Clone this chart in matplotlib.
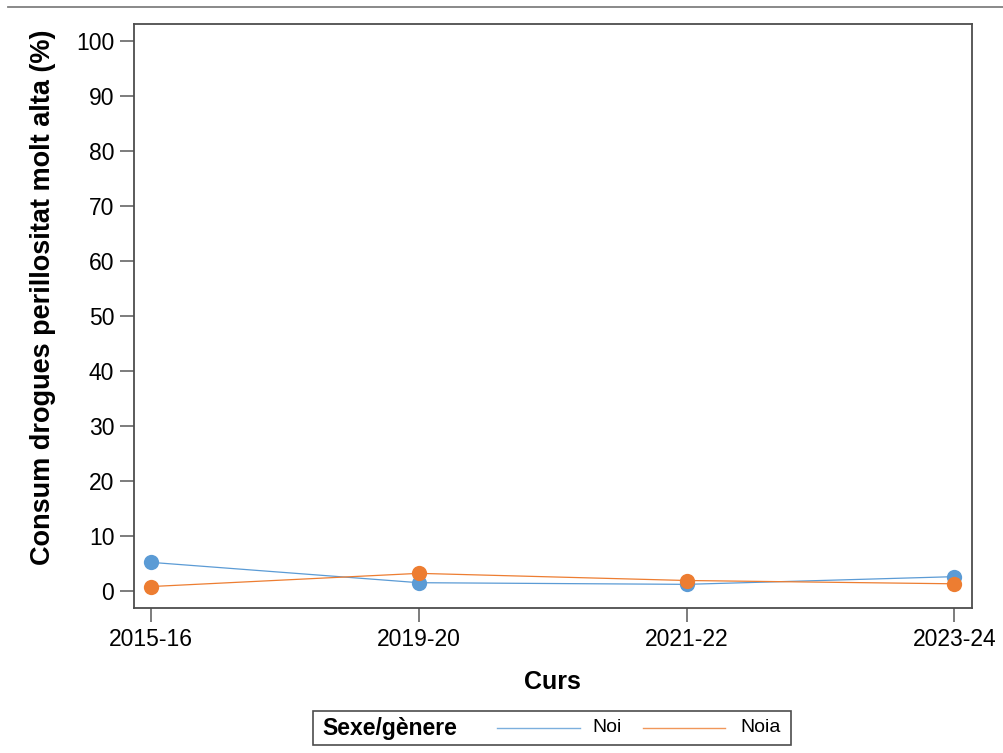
import matplotlib.pyplot as plt
from matplotlib.lines import Line2D
from matplotlib.patches import Rectangle

plt.rcParams["font.family"] = ["Liberation Sans", "DejaVu Sans"]

# Data
cursos = ["2015-16", "2019-20", "2021-22", "2023-24"]
noi = [5.2, 1.5, 1.2, 2.6]
noia = [0.8, 3.2, 1.9, 1.3]
y_ticks = [0, 10, 20, 30, 40, 50, 60, 70, 80, 90, 100]

blue = "#5b9bd5"
orange = "#ed7d31"
spine_col = "#4d4d4d"

fig = plt.figure(figsize=(10.04, 7.53), dpi=100)
ax = fig.add_axes([0.1332, 0.1922, 0.8346, 0.7759])

x = list(range(len(cursos)))
ax.plot(x, noi, color=blue, linewidth=0.9, marker="o", markersize=11,
        markeredgewidth=0, zorder=3)
ax.plot(x, noia, color=orange, linewidth=0.9, marker="o", markersize=11,
        markeredgewidth=0, zorder=4)

ax.set_xlim(-0.0646, 3.0646)
ax.set_ylim(-3.15, 103.1)
ax.set_xticks(x)
ax.set_xticklabels(cursos)
ax.set_yticks(y_ticks)
ax.tick_params(axis="both", labelsize=16.5, length=10, width=1.2,
               color="#666666", pad=4)

for s in ax.spines.values():
    s.set_color(spine_col)
    s.set_linewidth(1.3)

ax.set_xlabel("Curs", fontsize=18, fontweight="bold", labelpad=14)
ax.set_ylabel("Consum drogues perillositat molt alta (%)", fontsize=19.5,
              fontweight="bold")
# label sits a bit above the axes centre in the reference
ax.yaxis.set_label_coords(-0.093, 0.532)

# Top rule
fig.add_artist(Line2D([0.008, 1.0], [1 - 7 / 753, 1 - 7 / 753],
                      color="#808080", linewidth=1.3))

# Legend box drawn in figure coordinates
W, H = 1004, 753
fig.add_artist(Rectangle((313 / W, 1 - 745 / H), (791 - 313) / W, 34 / H,
                         transform=fig.transFigure, fill=False,
                         edgecolor=spine_col, linewidth=1.2))
ly = 1 - 728 / H
fig.text(322 / W, ly, "Sexe/gènere", fontsize=16.5, fontweight="bold",
         va="center", ha="left")
fig.add_artist(Line2D([497 / W, 580 / W], [ly, ly], color=blue,
                      linewidth=1.0, alpha=0.8))
fig.text(592 / W, ly, "Noi", fontsize=14, va="center", ha="left")
fig.add_artist(Line2D([643 / W, 725 / W], [ly, ly], color=orange,
                      linewidth=1.0, alpha=0.8))
fig.text(740 / W, ly, "Noia", fontsize=14, va="center", ha="left")

fig.savefig("out.png", dpi=100)
